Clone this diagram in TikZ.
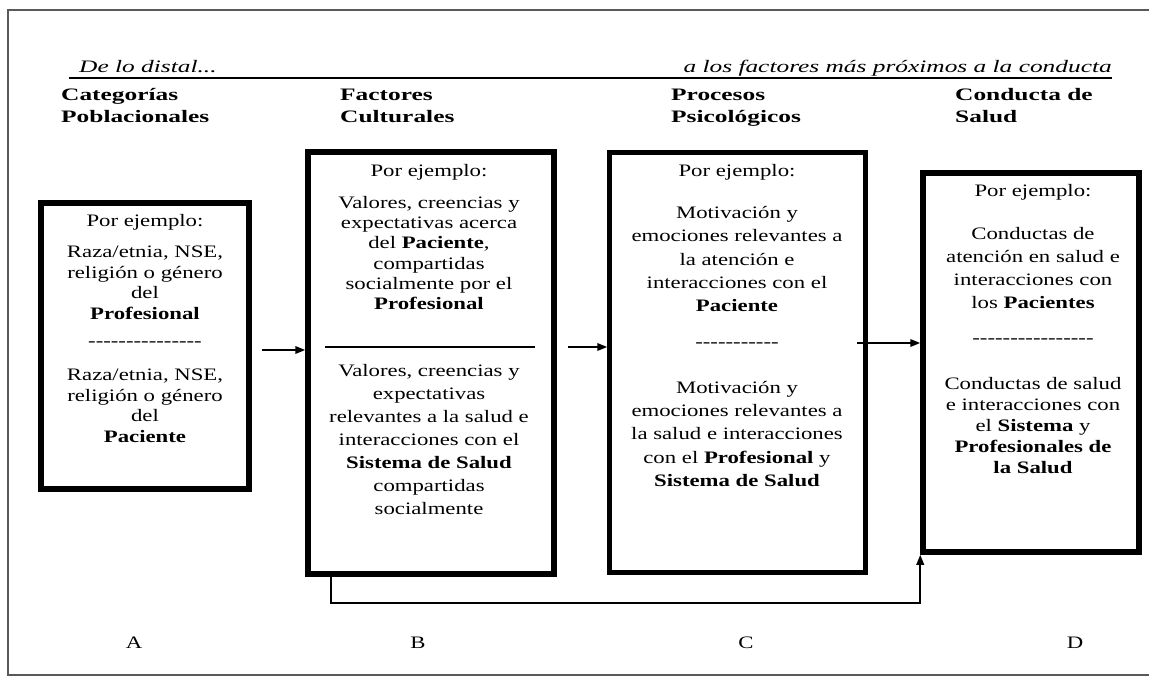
\documentclass[tikz,border=0pt]{standalone}
\usepackage{fontspec}
\setmainfont{Liberation Serif}[FakeStretch=1.3,Ligatures=TeXOff]
\newfontfamily\widefont{Liberation Serif}[FakeStretch=1.45,Ligatures=TeXOff]
\usetikzlibrary{arrows.meta}
\begin{document}
\begin{tikzpicture}[x=1pt,y=-1pt,
  box/.style={draw, line width=5.5pt, inner sep=0pt},
  txt/.style={font=\fontsize{17.5}{21}\selectfont, align=center, inner sep=0pt},
  ttl/.style={font=\widefont\fontsize{17.5}{22}\selectfont\bfseries, align=left, inner sep=0pt, anchor=north west},
  hdr/.style={font=\widefont\fontsize{17.5}{21}\selectfont\itshape, inner sep=0pt},
  lbl/.style={font=\fontsize{17.5}{21}\selectfont, inner sep=0pt},
  arr/.style={line width=1.9pt, -{Triangle[length=10pt,width=7.5pt]}},
  frame/.style={draw=black!65, line width=2pt}
]
\useasboundingbox (0,0) rectangle (1149,677);
% outer frame
\draw[frame] (1149,10) -- (8,10) -- (8,675) -- (1149,675);
% header
\node[hdr, anchor=base west] (hl) at (79,73) {De lo distal...};
\node[hdr, anchor=base east] (hr) at (1112,73) {a los factores más próximos a la conducta};
\draw[line width=1.5pt] (69,78) -- (1112,78);
% titles
\node[ttl] (tA) at (61,85) {\strut Categorías\\\strut Poblacionales};
\node[ttl] (tB) at (340,85) {\strut Factores\\\strut Culturales};
\node[ttl] (tC) at (671,85) {\strut Procesos\\\strut Psicológicos};
\node[ttl] (tD) at (955,85) {\strut Conducta de\\\strut Salud};
% boxes
\node[box, minimum width=208pt, minimum height=286pt] (A) at (145,346) {};
\node[box, minimum width=246pt, minimum height=422pt] (B) at (431,363) {};
\node[box, line width=4.5pt, minimum width=256pt, minimum height=420pt] (C) at (737.5,362.5) {};
\node[box, minimum width=216pt, minimum height=379pt] (D) at (1031,362.5) {};
% box A text
\node[txt] (a0) at (145,222) {Por ejemplo:};
\node[txt, font=\fontsize{17.5}{20.5}\selectfont] (a1) at (145,283) {Raza/etnia, NSE,\\religión o género\\del\\\textbf{Profesional}};
\node[txt] (a2) at (145,344) {---------------};
\node[txt, font=\fontsize{17.5}{20.5}\selectfont] (a3) at (145,406) {Raza/etnia, NSE,\\religión o género\\del\\\textbf{Paciente}};
% box B text
\node[txt] (b0) at (429,172) {Por ejemplo:};
\node[txt, font=\fontsize{17.5}{20.2}\selectfont] (b1) at (429,253) {Valores, creencias y\\expectativas acerca\\del \textbf{Paciente},\\compartidas\\socialmente por el\\\textbf{Profesional}};
\draw[line width=1.3pt] (325,347) -- (535,347);
\node[txt, font=\fontsize{17.5}{23}\selectfont] (b2) at (429,440) {Valores, creencias y\\expectativas\\relevantes a la salud e\\interacciones con el\\\textbf{Sistema de Salud}\\compartidas\\socialmente};
% box C text
\node[txt] (c0) at (737,172) {Por ejemplo:};
\node[txt, font=\fontsize{17.5}{23.25}\selectfont] (c1) at (737,259) {Motivación y\\emociones relevantes a\\la atención e\\interacciones con el\\\textbf{Paciente}};
\node[txt] (c2) at (737,345) {-----------};
\node[txt, font=\fontsize{17.5}{23.25}\selectfont] (c3) at (737,434) {Motivación y\\emociones relevantes a\\la salud e interacciones\\con el \textbf{Profesional} y\\\textbf{Sistema de Salud}};
% box D text
\node[txt] (d0) at (1033,192) {Por ejemplo:};
\node[txt, font=\fontsize{17.5}{23}\selectfont] (d1) at (1033,268) {Conductas de\\atención en salud e\\interacciones con\\los \textbf{Pacientes}};
\node[txt] (d2) at (1033,341) {----------------};
\node[txt, font=\fontsize{17.5}{21}\selectfont] (d3) at (1033,426) {Conductas de salud\\e interacciones con\\el \textbf{Sistema} y\\\textbf{Profesionales de}\\\textbf{la Salud}};
% arrows
\coordinate (ab) at (262,350);
\coordinate (bc) at (568,347);
\coordinate (cd) at (857,343);
\coordinate (fb) at (331,603);
\draw[arr] (ab) -- (ab -| B.west);
\draw[arr] (bc) -- (bc -| C.west);
\draw[arr] (cd) -- (cd -| D.west);
\draw[arr] (fb |- B.south) -- (fb) -- (fb -| D.south west) -- (D.south west);
% letters
\node[lbl] (lA) at (134,643) {A};
\node[lbl] (lB) at (418,643) {B};
\node[lbl] (lC) at (746,643) {C};
\node[lbl] (lD) at (1075,643) {D};
\end{tikzpicture}
\end{document}
